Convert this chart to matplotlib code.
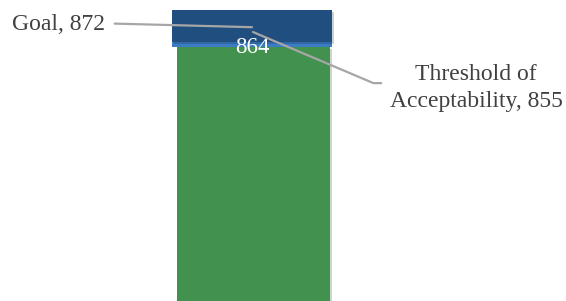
import matplotlib.pyplot as plt
import matplotlib.patheffects as pe

# values
actual = 864
goal = 872
threshold = 855
labels = ['Goal', 'Threshold of\nAcceptability']

base = 799.25      # bottom of visible axis
marker = 1.25      # thickness of the light blue actual marker

plt.rcParams['font.family'] = ['Liberation Serif', 'DejaVu Serif']

fig = plt.figure(figsize=(5.66, 3.01), dpi=100)
ax = fig.add_axes([0, 0, 1, 1])
ax.set_xlim(-1.575, 1.9625)
ax.set_ylim(base, 874.5)
ax.axis('off')

shadow = [pe.SimplePatchShadow(offset=(1.5, -1.5), alpha=0.2), pe.Normal()]

# green bar (actual, below marker)
ax.bar(0.01, actual - marker - base, bottom=base, width=0.956,
       color='#42914e', path_effects=shadow)
# light blue marker
ax.bar(0, marker, bottom=actual - marker, width=1, color='#3b7cc4')
# dark blue segment up to goal
ax.bar(0, goal - actual, bottom=actual, width=1, color='#1f4e7f',
       path_effects=shadow)

ax.text(0, actual - 1.3, str(actual), ha='center', va='center',
        color='white', fontsize=16.5)

# goal label
ax.annotate(f'{labels[0]}, {goal}', xy=(0, goal - 4.3), xytext=(-0.919, goal - 3.6),
            ha='right', va='center', fontsize=17, color='#404040',
            arrowprops=dict(arrowstyle='-', color='#a6a6a6', lw=1.6,
                            relpos=(1, 0.55), patchA=None, shrinkA=7, shrinkB=0))

# threshold label
ax.annotate(f'{labels[1]}, {threshold}', xy=(0.006, goal - 5.5), xytext=(1.40, 852.5),
            ha='center', va='center', fontsize=17, color='#404040',
            linespacing=1.42,
            arrowprops=dict(arrowstyle='-', color='#a6a6a6', lw=1.6,
                            relpos=(0, 0.6), patchA=None, shrinkA=6, shrinkB=0,
                            connectionstyle='angle,angleA=0,angleB=-23,rad=0'))

fig.savefig('out.png', dpi=100)
